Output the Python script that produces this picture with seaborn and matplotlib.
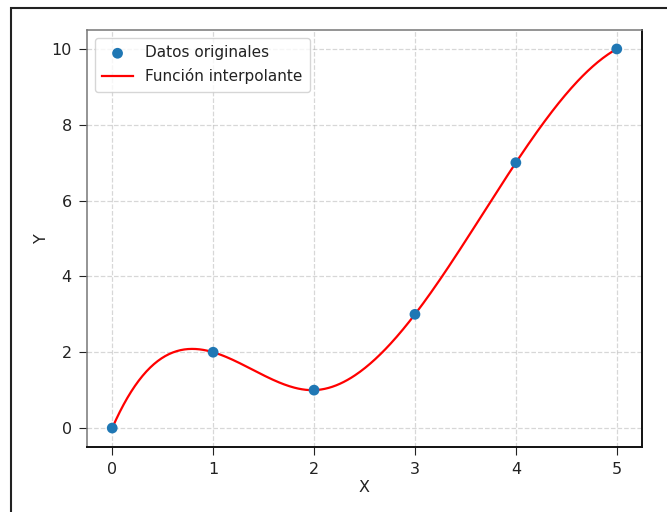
import numpy as np
import pandas as pd
import matplotlib
matplotlib.use("Agg")
import matplotlib.pyplot as plt
from matplotlib.patches import Rectangle
import seaborn as sns

# Original sample points
x_data = [0, 1, 2, 3, 4, 5]
y_data = [0, 2, 1, 3, 7, 10]


def not_a_knot_spline(xs, ys, xq):
    """Cubic spline through (xs, ys) with not-a-knot end conditions."""
    xs = np.asarray(xs, float)
    ys = np.asarray(ys, float)
    n = len(xs)
    h = np.diff(xs)
    A = np.zeros((n, n))
    b = np.zeros(n)
    # interior continuity of first derivative (in terms of second derivatives M)
    for i in range(1, n - 1):
        A[i, i - 1] = h[i - 1]
        A[i, i] = 2 * (h[i - 1] + h[i])
        A[i, i + 1] = h[i]
        b[i] = 6 * ((ys[i + 1] - ys[i]) / h[i] - (ys[i] - ys[i - 1]) / h[i - 1])
    # not-a-knot: continuous third derivative at second and penultimate knots
    A[0, 0] = h[1]
    A[0, 1] = -(h[0] + h[1])
    A[0, 2] = h[0]
    A[-1, -3] = h[-1]
    A[-1, -2] = -(h[-2] + h[-1])
    A[-1, -1] = h[-2]
    M = np.linalg.solve(A, b)
    xq = np.asarray(xq, float)
    idx = np.clip(np.searchsorted(xs, xq) - 1, 0, n - 2)
    x0, x1 = xs[idx], xs[idx + 1]
    hh = x1 - x0
    a = (x1 - xq) / hh
    c = (xq - x0) / hh
    return (a * ys[idx] + c * ys[idx + 1]
            + ((a ** 3 - a) * M[idx] + (c ** 3 - c) * M[idx + 1]) * hh ** 2 / 6)


x_fine = np.linspace(min(x_data), max(x_data), 400)
y_fine = not_a_knot_spline(x_data, y_data, x_fine)

points = pd.DataFrame({"x": x_data, "y": y_data})
curve = pd.DataFrame({"x": x_fine, "y": y_fine})

plt.rcParams["font.family"] = ["DejaVu Sans"]
plt.rcParams["font.size"] = 11.5
plt.rcParams["text.color"] = "#222222"
plt.rcParams["axes.labelcolor"] = "#222222"
plt.rcParams["xtick.color"] = "#222222"
plt.rcParams["ytick.color"] = "#222222"
plt.rcParams["xtick.major.size"] = 5.5
plt.rcParams["ytick.major.size"] = 5.5
plt.rcParams["xtick.major.pad"] = 5
plt.rcParams["ytick.major.pad"] = 5.5

fig = plt.figure(figsize=(6.67, 5.12), dpi=100)
ax = fig.add_axes([87 / 667, 1 - 447 / 512, (642 - 87) / 667, (447 - 30) / 512])

# outer frame around the figure
fig.patches.append(Rectangle((11 / 667, -0.1), 1.2, (1 - 8 / 512) + 0.1,
                             transform=fig.transFigure, fill=False,
                             edgecolor="#222222", linewidth=1.5, zorder=0))

sns.scatterplot(data=points, x="x", y="y", ax=ax, s=60, color="#1f77b4",
                edgecolor="none", label="Datos originales", zorder=3)
sns.lineplot(data=curve, x="x", y="y", ax=ax, color="red", linewidth=1.6,
             label="Función interpolante", zorder=2)

ax.set_xlim(-0.25, 5.25)
ax.set_ylim(-0.5, 10.5)
ax.set_xticks([0, 1, 2, 3, 4, 5])
ax.set_yticks([0, 2, 4, 6, 8, 10])
ax.set_xlabel("X", labelpad=2.5)
ax.set_ylabel("Y", labelpad=2)
ax.grid(True, linestyle="--", color="#b0b0b0", alpha=0.5, linewidth=0.9)
ax.set_axisbelow(True)

for side in ("top", "left"):
    ax.spines[side].set_color("#777777")
    ax.spines[side].set_linewidth(1.1)
for side in ("bottom", "right"):
    ax.spines[side].set_color("#111111")
    ax.spines[side].set_linewidth(1.4)

ax.legend(loc="upper left", fontsize=11, framealpha=0.8, edgecolor="#cccccc",
          borderpad=0.5)

fig.savefig("out.png", dpi=100)
